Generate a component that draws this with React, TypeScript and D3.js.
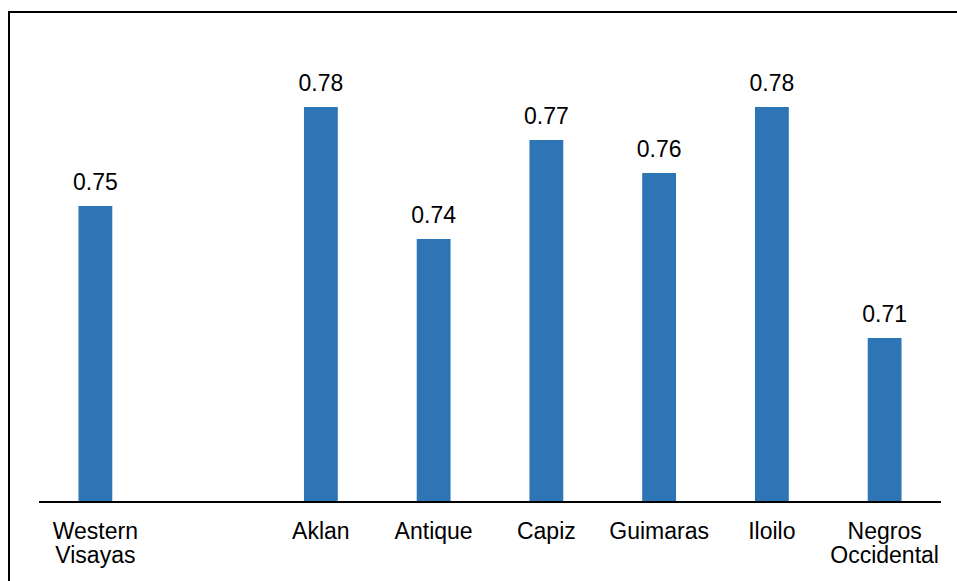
import * as d3 from 'd3'

const W = 957, H = 581

// one empty slot sits between the region and the provinces
const categories = ['Western\nVisayas', '', 'Aklan', 'Antique', 'Capiz', 'Guimaras', 'Iloilo', 'Negros\nOccidental']
const values: (number | null)[] = [0.75, null, 0.78, 0.74, 0.77, 0.76, 0.78, 0.71]
const labels = ['0.75', '', '0.78', '0.74', '0.77', '0.76', '0.78', '0.71']

const BAR = '#2e75b6'
const FONT = '"Liberation Sans", Arial, sans-serif'
const AXIS_Y = 502

export default function App() {
  const keys = categories.map((c, i) => `${i}`)
  const x = d3.scaleBand<string>().domain(keys).range([39, 941]).paddingInner(0.7).paddingOuter(0.35)
  const y = d3.scaleLinear().domain([0.66, 0.8]).range([503, 41])

  return (
    <svg width={W} height={H} viewBox={`0 0 ${W} ${H}`}
      style={{ position: 'absolute', left: 0, top: 0, background: '#fff' }}>
      <rect x={9} y={12} width={W + 20} height={H + 20} fill="none" stroke="#000" strokeWidth={2} />

      {values.map((v, i) => v == null ? null : (
        <g key={i}>
          <rect x={x(keys[i])!} y={y(v)} width={x.bandwidth()} height={AXIS_Y - 1 - y(v)} fill={BAR} />
          <text x={x(keys[i])! + x.bandwidth() / 2} y={y(v) - 16} textAnchor="middle"
            fontFamily={FONT} fontSize={23} fill="#000">{labels[i]}</text>
        </g>
      ))}

      <line x1={39} x2={941} y1={AXIS_Y} y2={AXIS_Y} stroke="#000" strokeWidth={2} />

      {categories.map((c, i) => (
        <text key={i} x={x(keys[i])! + x.bandwidth() / 2} y={539} textAnchor="middle"
          fontFamily={FONT} fontSize={23} fill="#000">
          {c.split('\n').map((line, j) => (
            <tspan key={j} x={x(keys[i])! + x.bandwidth() / 2} dy={j === 0 ? 0 : 24}>{line}</tspan>
          ))}
        </text>
      ))}
    </svg>
  )
}
